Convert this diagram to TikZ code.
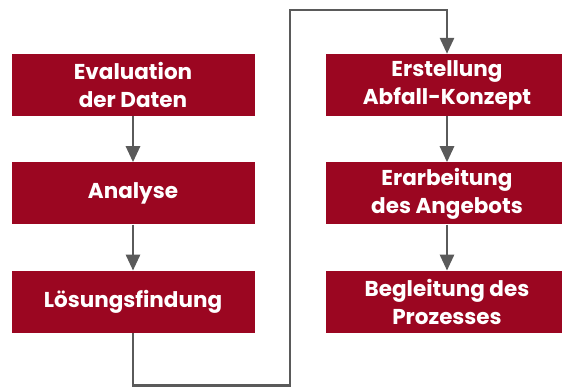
\documentclass[tikz,border=0pt]{standalone}
\usepackage{fontspec}
\setmainfont{Poppins}
\usetikzlibrary{arrows.meta,positioning}
\definecolor{boxred}{HTML}{9B0621}
\definecolor{linegray}{HTML}{5A5A5A}

\begin{document}
\begin{tikzpicture}[
  x=1pt, y=1pt,
  font=\bfseries\fontsize{21.5}{28}\selectfont,
  node distance=46pt,
  box/.style={fill=boxred, text=white, align=center, minimum width=243pt, minimum height=62pt, inner sep=0pt},
  arrow/.style={-{Triangle[length=16pt,width=14pt]}, line width=2.8pt, draw=linegray}
]
\clip (0,0) rectangle (562,-387);
\node[box] (eval) at (133,-85) {Evaluation\\der Daten};
\node[box, below=of eval] (analyse) {Analyse};
\node[box, below=of analyse] (loesung) {Lösungsfindung};
\node[box] (erst) at (447,-85) {Erstellung\\Abfall-Konzept};
\node[box, below=of erst] (angebot) {Erarbeitung\\des Angebots};
\node[box, below=of angebot] (begleit) {Begleitung des\\Prozesses};
\coordinate (lowturn) at (290,-385.5);
\coordinate (highturn) at (290,-10);
\draw[arrow] (eval) -- (analyse);
\draw[arrow] (analyse) -- (loesung);
\draw[arrow] (erst) -- (angebot);
\draw[arrow] (angebot) -- (begleit);
\draw[arrow] (loesung.south) |- (lowturn) -- (highturn) -| (erst.north);
\end{tikzpicture}
\end{document}
